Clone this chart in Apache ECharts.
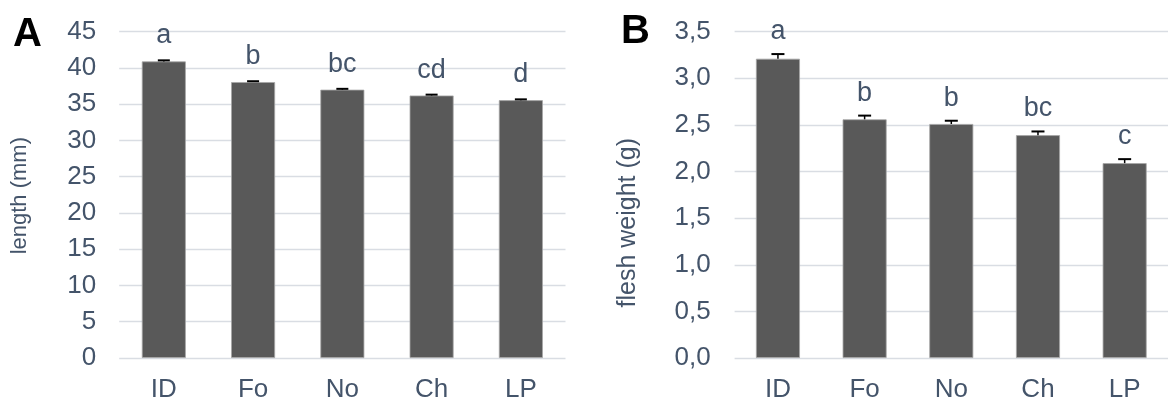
<!DOCTYPE html>
<html>
<head>
<meta charset="utf-8">
<script src="https://cdn.jsdelivr.net/npm/echarts@6/dist/echarts.min.js"></script>
<style>
html,body{margin:0;padding:0;background:#fff;}
#c{width:1168px;height:403px;}
</style>
</head>
<body>
<div id="c"></div>
<script>
// ---- data ----
const categories = ['ID', 'Fo', 'No', 'Ch', 'LP'];
const lengthValues = [40.9, 38.05, 37.0, 36.2, 35.55];
const lengthErrors = [0.15, 0.12, 0.12, 0.12, 0.12];
const lengthLetters = ['a', 'b', 'bc', 'cd', 'd'];
const weightValues = [3.21, 2.56, 2.51, 2.39, 2.09];
const weightErrors = [0.05, 0.04, 0.035, 0.04, 0.043];
const weightLetters = ['a', 'b', 'b', 'bc', 'c'];
const panelLabels = ['A', 'B'];
const axisNames = ['length (mm)', 'flesh weight (g)'];

const TXT = '#44546A';
const FONT = 'Liberation Sans, Arial, sans-serif';

function errSeries(gridIdx, values, errors, letters, capHalf, gap) {
  return {
    type: 'custom',
    xAxisIndex: gridIdx, yAxisIndex: gridIdx,
    z: 5,
    data: values.map((v, i) => [i, v, errors[i]]),
    renderItem: function (params, api) {
      const x = api.value(0), v = api.value(1), e = api.value(2);
      const base = api.coord([x, v]);
      const top = api.coord([x, v + e]);
      return {
        type: 'group',
        children: [
          { type: 'line', shape: { x1: base[0], y1: base[1], x2: top[0], y2: top[1] },
            style: { stroke: '#000', lineWidth: 1.5 } },
          { type: 'line', shape: { x1: top[0] - capHalf, y1: top[1], x2: top[0] + capHalf, y2: top[1] },
            style: { stroke: '#000', lineWidth: 2 } },
          { type: 'text', x: top[0], y: top[1] - gap,
            style: { text: letters[params.dataIndex], fill: TXT, fontSize: 27, fontFamily: FONT,
                     align: 'center', verticalAlign: 'bottom' } }
        ]
      };
    }
  };
}

const chart = echarts.init(document.getElementById('c'), null, { renderer: 'canvas' });
const yLabel = { color: TXT, fontSize: 26, fontFamily: FONT };
chart.setOption({
  animation: false,
  backgroundColor: '#fff',
  grid: [
    { left: 119.2, top: 31.7, width: 446.3, height: 328 },
    { left: 734.6, top: 31.7, width: 439, height: 328.3 }
  ],
  xAxis: [0, 1].map(g => ({
    type: 'category', gridIndex: g, data: categories,
    axisLine: { show: false }, axisTick: { show: false },
    axisLabel: { color: TXT, fontSize: 26, fontFamily: FONT, margin: 19 }
  })),
  yAxis: [
    { type: 'value', gridIndex: 0, min: 0, max: 45, interval: 5,
      axisLine: { show: false }, axisTick: { show: false },
      splitLine: { lineStyle: { color: '#D9DDE3', width: 1.3 } },
      axisLabel: Object.assign({ margin: 23 }, yLabel) },
    { type: 'value', gridIndex: 1, min: 0, max: 3.5, interval: 0.5,
      axisLine: { show: false }, axisTick: { show: false },
      splitLine: { lineStyle: { color: '#D9DDE3', width: 1.3 } },
      axisLabel: Object.assign({ margin: 24, formatter: v => v.toFixed(1).replace('.', ',') }, yLabel) }
  ],
  series: [
    { type: 'bar', xAxisIndex: 0, yAxisIndex: 0, data: lengthValues, barWidth: 44,
      itemStyle: { color: '#595959', borderColor: '#A6A6A6', borderWidth: 0.8 } },
    { type: 'bar', xAxisIndex: 1, yAxisIndex: 1, data: weightValues, barWidth: 44,
      itemStyle: { color: '#595959', borderColor: '#A6A6A6', borderWidth: 0.8 } },
    errSeries(0, lengthValues, lengthErrors, lengthLetters, 6, 11),
    errSeries(1, weightValues, weightErrors, weightLetters, 6.5, 9)
  ],
  graphic: [
    { type: 'text', left: 13, top: 15, style: { text: panelLabels[0], fill: '#000', fontSize: 40, fontWeight: 'bold', fontFamily: FONT } },
    { type: 'text', left: 621, top: 12, style: { text: panelLabels[1], fill: '#000', fontSize: 40, fontWeight: 'bold', fontFamily: FONT } },
    { type: 'text', x: 20, y: 137, rotation: Math.PI / 2,
      style: { text: axisNames[0], fill: TXT, fontSize: 22, fontFamily: FONT, align: 'right', verticalAlign: 'middle' } },
    { type: 'text', x: 628, y: 138, rotation: Math.PI / 2,
      style: { text: axisNames[1], fill: TXT, fontSize: 25, fontFamily: FONT, align: 'right', verticalAlign: 'middle' } }
  ]
});
</script>
</body>
</html>
